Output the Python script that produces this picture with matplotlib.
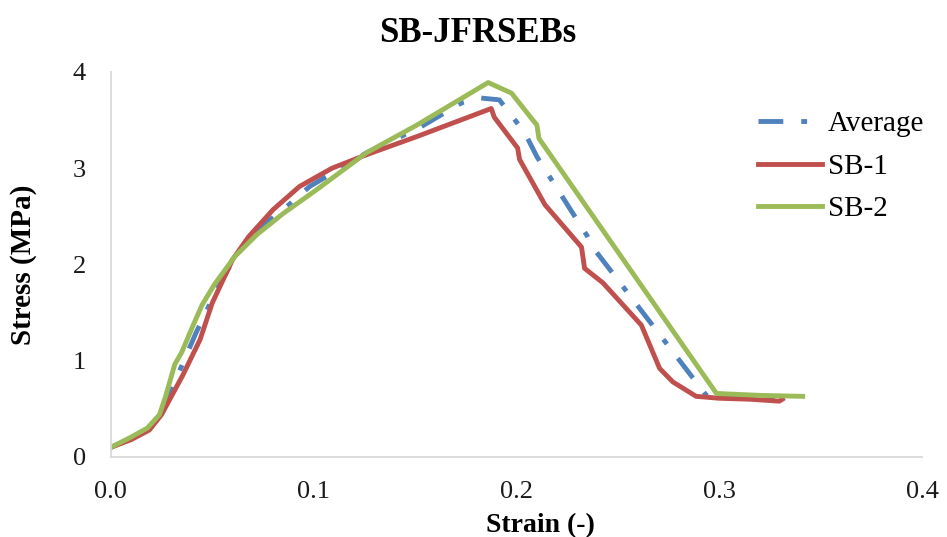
import matplotlib
matplotlib.use('Agg')
import matplotlib.pyplot as plt

# Strain (-) / Stress (MPa)
sb1_strain = [0.000, 0.010, 0.019, 0.025, 0.0355, 0.044, 0.050, 0.060, 0.068, 0.080,
              0.093, 0.109, 0.126, 0.151, 0.1875, 0.189, 0.2005, 0.2015, 0.214, 0.232,
              0.2335, 0.2425, 0.2615, 0.2705, 0.277, 0.2885, 0.300, 0.315, 0.3295, 0.331]
sb1_stress = [0.10, 0.18, 0.28, 0.44, 0.85, 1.22, 1.60, 2.05, 2.29, 2.57,
              2.81, 3.00, 3.14, 3.33, 3.62, 3.53, 3.21, 3.09, 2.62, 2.18,
              1.96, 1.81, 1.37, 0.92, 0.78, 0.63, 0.61, 0.60, 0.58, 0.60]

sb2_strain = [0.000, 0.0094, 0.018, 0.024, 0.027, 0.0315, 0.035, 0.040, 0.045, 0.051,
              0.061, 0.072, 0.085, 0.101, 0.126, 0.151, 0.186, 0.1975, 0.208, 0.210,
              0.211, 0.2985, 0.320, 0.341]
sb2_stress = [0.10, 0.20, 0.30, 0.44, 0.63, 0.96, 1.09, 1.34, 1.58, 1.79,
              2.08, 2.31, 2.53, 2.77, 3.16, 3.45, 3.89, 3.78, 3.50, 3.45,
              3.31, 0.66, 0.64, 0.63]

avg_strain = [0.000, 0.010, 0.019, 0.025, 0.034, 0.042, 0.052, 0.061, 0.0735, 0.084,
              0.098, 0.126, 0.152, 0.173, 0.182, 0.1915, 0.204, 0.210, 0.235, 0.2375,
              0.2935, 0.310, 0.3335]
avg_stress = [0.10, 0.19, 0.29, 0.44, 0.90, 1.29, 1.73, 2.07, 2.39, 2.55,
              2.81, 3.16, 3.42, 3.68, 3.73, 3.71, 3.37, 3.12, 2.29, 2.18,
              0.64, 0.62, 0.59]

x_ticks = [0.0, 0.1, 0.2, 0.3, 0.4]
y_ticks = [0, 1, 2, 3, 4]

plt.rcParams['font.family'] = ['Liberation Serif', 'DejaVu Serif']

fig = plt.figure(figsize=(9.47, 5.37), dpi=100)
ax = fig.add_axes([0.117, 0.149, 0.857, 0.717])

lw = 3.5
ax.plot(avg_strain, avg_stress, color='#4f81bd', lw=lw,
        linestyle=(0, (5.1, 3.7, 1.2, 3.7)), dash_capstyle='butt', label='Average')
ax.plot(sb1_strain, sb1_stress, color='#c0504d', lw=lw, label='SB-1', solid_joinstyle='round')
ax.plot(sb2_strain, sb2_stress, color='#9bbb59', lw=lw, label='SB-2', solid_joinstyle='round')

ax.set_xlim(0, 0.4)
ax.set_ylim(0, 4)
ax.set_xticks(x_ticks)
ax.set_xticklabels([f'{t:.1f}' for t in x_ticks])
ax.set_yticks(y_ticks)
ax.tick_params(length=0, labelsize=19, colors='#1a1a1a')
ax.tick_params(axis='x', pad=17)
ax.tick_params(axis='y', pad=18)

for side in ['top', 'right']:
    ax.spines[side].set_visible(False)
for side in ['left', 'bottom']:
    ax.spines[side].set_color('#d9d9d9')
    ax.spines[side].set_linewidth(1.3)

fig.text(0.504, 0.922, 'SB-JFRSEBs', fontsize=25, fontweight='bold',
         ha='center', va='baseline')
ax.set_xlabel('Strain (-)', fontsize=20, fontweight='bold')
ax.xaxis.set_label_coords(0.53, -0.145)
ax.set_ylabel('Stress (MPa)', fontsize=21, fontweight='bold')
ax.yaxis.set_label_coords(-0.091, 0.5)

ax.legend(loc='upper left', bbox_to_anchor=(758 / 947, 1 - 111 / 537),
          bbox_transform=fig.transFigure, frameon=False, borderpad=0,
          borderaxespad=0, fontsize=21, handlelength=2.2, handletextpad=0.2,
          labelspacing=0.55)

plt.savefig('out.png', dpi=100)
plt.close()
